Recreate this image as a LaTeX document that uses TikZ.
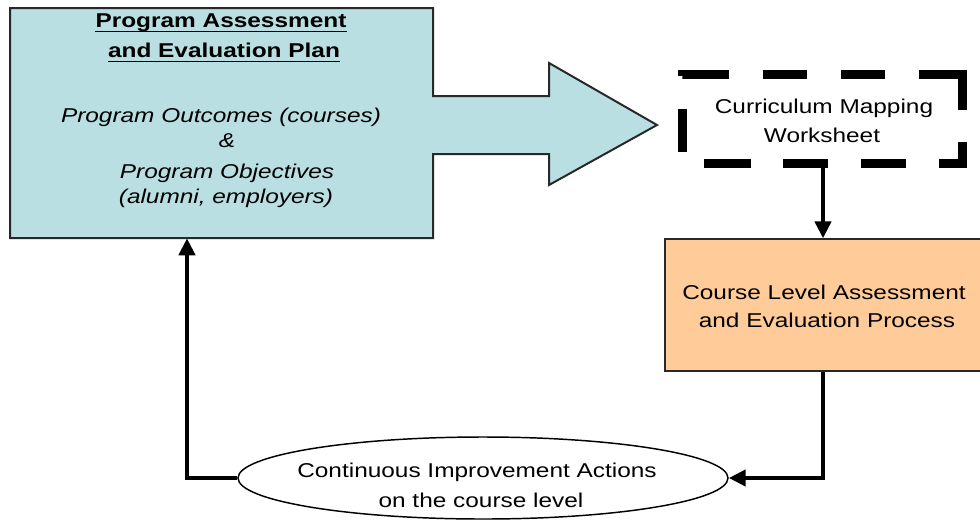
\documentclass[tikz,border=0pt]{standalone}
\usepackage{fontspec}
\setmainfont{Liberation Sans}[FakeStretch=1.22]
\usetikzlibrary{arrows.meta,shapes.geometric,fit}
\definecolor{planfill}{RGB}{185,223,227}
\definecolor{coursefill}{RGB}{255,204,153}
\definecolor{edgegray}{RGB}{40,40,40}
\begin{document}
\begin{tikzpicture}[x=0.75pt,y=-0.75pt,
  txt/.style={anchor=base, inner sep=0pt, font=\fontsize{15pt}{18pt}\selectfont},
  headtxt/.style={txt, font=\fontsize{15pt}{18pt}\selectfont\bfseries},
  ittxt/.style={txt, font=\fontsize{15pt}{18pt}\selectfont\itshape},
  uline/.style={line width=1.1pt},
  frame/.style={inner sep=0pt},
  conn/.style={line width=3.4pt, line join=miter,
    -{Triangle[length=12.75pt,width=12pt]}},
  dashbox/.style={line width=7pt, line join=miter, line cap=butt,
    dash pattern=on 33pt off 25.5pt on 33pt off 25.5pt on 33pt off 25.5pt
      on 59.25pt off 24pt on 33pt off 24.75pt on 33.75pt off 24.75pt
      on 33.75pt off 24pt on 35.25pt off 24.75pt on 32.25pt off 25.5pt},
  coursebox/.style={draw=edgegray, line width=1pt, fill=coursefill},
  actions/.style={ellipse, draw, fill=white, line width=1.1pt,
    minimum width=367.5pt, minimum height=61.5pt, inner sep=0pt}]
\useasboundingbox (0,0) rectangle (980,525);

% plan box merged with the broad arrow
\draw[line width=1.5pt, line join=miter, draw=edgegray, fill=planfill]
  (10,8) -- (433,8) -- (433,96) -- (549,96) -- (549,63) -- (657,125)
  -- (549,185) -- (549,154) -- (433,154) -- (433,238) -- (10,238) -- cycle;
\node[frame, fit={(10,8) (433,238)}] (plan) {};
\node[headtxt] (p1) at (221,27) {Program Assessment};
\node[headtxt] (p2) at (224,57) {and Evaluation Plan};
\draw[uline] ([yshift=-3.4pt]p1.base west) -- ([yshift=-3.4pt]p1.base east);
\draw[uline] ([yshift=-3.4pt]p2.base west) -- ([yshift=-3.4pt]p2.base east);
\node[ittxt] (p3) at (221,122) {Program Outcomes (courses)};
\node[ittxt] (p4) at (227,147) {\&};
\node[ittxt] (p5) at (227,178) {Program Objectives};
\node[ittxt] (p6) at (226,203) {(alumni, employers)};

% curriculum mapping worksheet, outline traced clockwise from just right of the top-left corner
\node[frame, fit={(683,75) (962,163)}] (cm) {};
\draw[dashbox] ([xshift=1.5pt]cm.north west) -- (cm.north east) -- (cm.south east)
  -- (cm.south west) -- (cm.north west) -- cycle;
\node[txt] (c1) at (824,113) {Curriculum Mapping};
\node[txt] (c2) at (822,142) {Worksheet};

% course level process
\node[coursebox, frame, fit={(665,239) (984,371)}] (course) {};
\node[txt] (o1) at (824,299) {Course Level Assessment};
\node[txt] (o2) at (827,327) {and Evaluation Process};

% improvement actions
\node[actions] (ell) at (483,478) {};
\node[txt] (e1) at (477,477) {Continuous Improvement Actions};
\node[txt] (e2) at (481,507) {on the course level};

% connectors
\coordinate (lc) at (187,478);
\draw[conn] (cm.south -| 823,0) -- (823,0 |- course.north);
\draw[conn] (course.south -| 823,0) |- (ell.east);
\draw[conn] (ell.west) -- (lc) -- (lc |- plan.south);
\end{tikzpicture}
\end{document}
